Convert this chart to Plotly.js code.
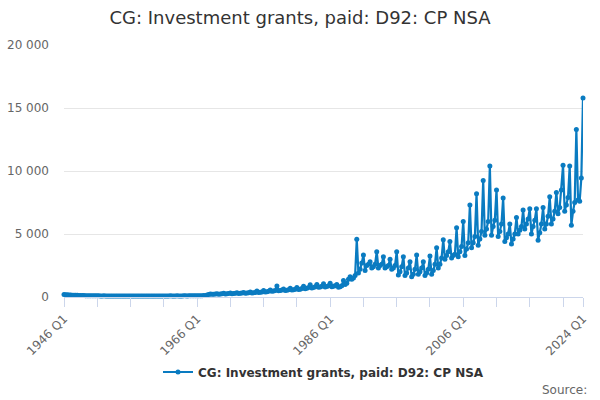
<!DOCTYPE html>
<html>
<head>
<meta charset="utf-8">
<script src="https://cdn.plot.ly/plotly-3.0.1.min.js"></script>
<style>
  html, body { margin: 0; padding: 0; background: #fff; }
  #chart { width: 600px; height: 400px; }
</style>
</head>
<body>
<div id="chart"></div>
<script>
var seriesName = "CG: Investment grants, paid: D92: CP NSA";
var firstYear = 1946;
var lastYear = 2024;

// quarterly values, one row per year (Q1..Q4)
var values = [
  190, 180, 170, 160,     // 1946
  150, 145, 140, 130,
  130, 120, 115, 110,
  115, 105, 100, 95,
  100, 95, 90, 90,        // 1950
  95, 90, 85, 85,
  90, 85, 80, 80,
  85, 80, 78, 78,
  82, 78, 76, 76,
  80, 76, 75, 75,         // 1955
  80, 76, 74, 75,
  80, 75, 74, 76,
  82, 76, 75, 77,
  84, 78, 76, 78,
  86, 80, 78, 80,         // 1960
  88, 82, 80, 82,
  90, 84, 82, 84,
  94, 86, 84, 86,
  98, 90, 88, 90,
  102, 94, 92, 95,        // 1965
  108, 98, 96, 100,
  120, 110, 160, 200,
  230, 210, 220, 240,
  260, 220, 230, 250,
  290, 240, 250, 270,     // 1970
  320, 260, 270, 290,
  340, 280, 290, 310,
  360, 300, 310, 330,
  400, 320, 330, 350,
  480, 350, 370, 400,     // 1975
  520, 400, 420, 460,
  560, 450, 480, 520,
  870, 500, 520, 560,
  640, 520, 540, 580,
  700, 560, 580, 620,     // 1980
  760, 600, 620, 680,
  850, 650, 700, 760,
  980, 720, 760, 820,
  1000, 780, 800, 860,
  1050, 800, 840, 900,    // 1985
  1100, 820, 850, 900,
  1000, 780, 820, 900,
  1300, 1000, 1100, 1400,
  1600, 1400, 1500, 1700,
  4580, 1900, 2200, 2700, // 1990
  3330, 2100, 2500, 2600,
  2800, 2300, 2400, 2600,
  3600, 2300, 2500, 2600,
  3200, 2300, 2400, 2500,
  3000, 2200, 2300, 2500, // 1995
  3600, 1750, 2000, 2400,
  3200, 1700, 1900, 2300,
  2800, 1600, 1800, 2200,
  3330, 1800, 2000, 2300,
  2800, 1700, 1900, 2200, // 2000
  3250, 1800, 2100, 2600,
  3900, 2300, 2600, 3100,
  4550, 3000, 3300, 3600,
  4400, 3100, 3300, 3400,
  5500, 3200, 3600, 4000, // 2005
  6000, 3300, 3800, 4300,
  7300, 3900, 4300, 4800,
  8200, 4100, 4600, 5200,
  9250, 4900, 5400, 6000,
  10400, 4900, 5600, 6100, // 2010
  8500, 4800, 5200, 5800,
  7850, 4400, 4700, 5000,
  5800, 4200, 4600, 5000,
  6300, 5000, 5300, 5600,
  6900, 5400, 5800, 6200, // 2015
  7000, 5000, 5600, 6100,
  7000, 4500, 5100, 5800,
  7100, 5400, 5800, 6400,
  7950, 5800, 6200, 6800,
  8300, 6600, 7100, 8500, // 2020
  10450, 6800, 7300, 7900,
  10400, 5700, 6800, 7500,
  13300, 7700, 7600, 9450,
  15800                   // 2024 Q1
];

var quarters = [];
for (var y = firstYear; y <= lastYear; y++) {
  for (var q = 1; q <= 4; q++) {
    if (quarters.length < values.length) quarters.push(y + " Q" + q);
  }
}

var labelledYears = ["1946 Q1", "1966 Q1", "1986 Q1", "2006 Q1", "2024 Q1"];

// tick every 5 years plus the last quarter
var tickVals = [];
var tickText = [];
for (var i = 0; i < quarters.length; i += 20) tickVals.push(quarters[i]);
if (tickVals[tickVals.length - 1] !== quarters[quarters.length - 1]) tickVals.push(quarters[quarters.length - 1]);
tickVals.forEach(function(t) { tickText.push(labelledYears.indexOf(t) >= 0 ? t : ""); });

var font = "DejaVu Sans, sans-serif";

Plotly.newPlot(document.getElementById("chart"), [{
  x: quarters,
  y: values,
  type: "scatter",
  mode: "lines+markers",
  name: seriesName,
  line: { color: "#0a7bc1", width: 2.2 },
  marker: { color: "#0a7bc1", size: 5 },
  cliponaxis: false
}], {
  width: 600,
  height: 400,
  margin: { l: 64, r: 17, t: 45, b: 103 },
  paper_bgcolor: "#fff",
  plot_bgcolor: "#fff",
  font: { family: font, color: "#666", size: 12 },
  separators: ". ",
  title: {
    text: seriesName,
    font: { family: font, size: 18, color: "#333" },
    x: 0.5, xanchor: "center", y: 0.955, yanchor: "middle"
  },
  xaxis: {
    type: "category",
    range: [0, quarters.length - 1],
    tickvals: tickVals,
    ticktext: tickText,
    tickangle: -45,
    ticks: "outside",
    ticklen: 9,
    tickcolor: "#ccd6eb",
    showline: true,
    linecolor: "#ccd6eb",
    showgrid: false,
    zeroline: false,
    tickfont: { size: 12, color: "#666" }
  },
  yaxis: {
    range: [0, 20000],
    tickvals: [0, 5000, 10000, 15000, 20000],
    separatethousands: true,
    tickformat: ",d",
    gridcolor: "#e6e6e6",
    zeroline: false,
    showline: false,
    ticks: "",
    ticklabelstandoff: 14,
    tickfont: { size: 12, color: "#666" }
  },
  showlegend: true,
  legend: {
    orientation: "h",
    x: 0.5, xanchor: "center",
    yref: "container", y: 0.07, yanchor: "middle",
    font: { family: font, size: 12, color: "#333", weight: "bold" }
  },
  annotations: [{
    text: "Source:",
    xref: "paper", yref: "paper",
    x: 1.012, xanchor: "right",
    y: -0.37, yanchor: "middle",
    showarrow: false,
    font: { family: font, size: 12, color: "#666" }
  }]
}, { displayModeBar: false });
</script>
</body>
</html>
